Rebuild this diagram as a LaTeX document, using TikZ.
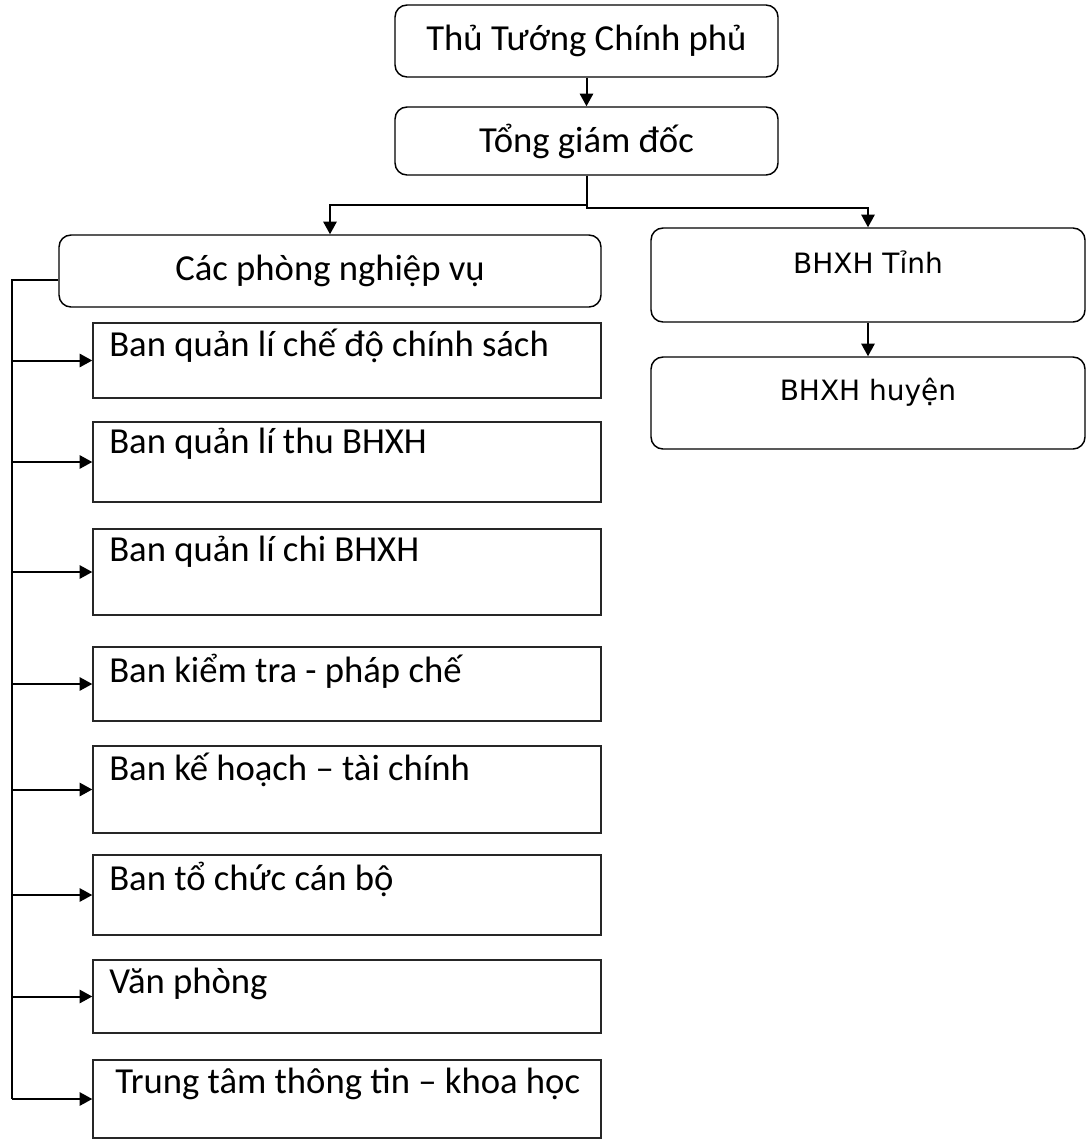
\documentclass[tikz,border=0pt]{standalone}
\usepackage{fontspec}
\setmainfont{Carlito}
\newfontfamily\veraface{DejaVu Sans}
\usetikzlibrary{arrows.meta,calc}

\begin{document}
\begin{tikzpicture}[x=0.75pt,y=-0.75pt,
  roundbox/.style={draw=black,line width=1.1pt,rounded corners=9pt,inner sep=0pt},
  flatbox/.style={draw=black!85,line width=1.1pt,inner sep=0pt,
    minimum width=508*0.75pt},
  lbl/.style={font=\fontsize{27.5pt}{32pt}\selectfont,inner sep=0pt},
  rlbl/.style={font=\veraface\fontsize{21pt}{26pt}\selectfont,inner sep=0pt},
  blbl/.style={lbl,anchor=west},
  conn/.style={line width=1.5pt},
  arr/.style={conn,-{Triangle[length=9.5pt,width=10pt]}}]

\useasboundingbox[fill=white] (0,0) rectangle (1087,1139);

% central management
\node[roundbox,minimum width=383*0.75pt,minimum height=72*0.75pt,lbl] (pm) at (586.5,41) {Thủ Tướng Chính phủ};
\node[roundbox,minimum width=383*0.75pt,minimum height=68*0.75pt,lbl] (tgd) at (586.5,141) {Tổng giám đốc};
\node[roundbox,minimum width=542*0.75pt,minimum height=72*0.75pt,lbl] (cpnv) at (330,271) {Các phòng nghiệp vụ};

% provincial branch
\node[roundbox,minimum width=434*0.75pt,minimum height=94*0.75pt] (tinh) at (868,275) {};
\node[rlbl] (tinh-t) at (868,262) {BHXH Tỉnh};
\node[roundbox,minimum width=434*0.75pt,minimum height=92*0.75pt] (huyen) at (868,403) {};
\node[rlbl] (huyen-t) at (868,392) {BHXH huyện};

% departments
\node[flatbox,minimum height=75*0.75pt] (b1) at (347,360.5) {};
\node[flatbox,minimum height=80*0.75pt] (b2) at (347,462) {};
\node[flatbox,minimum height=86*0.75pt] (b3) at (347,572) {};
\node[flatbox,minimum height=74*0.75pt] (b4) at (347,684) {};
\node[flatbox,minimum height=87*0.75pt] (b5) at (347,789.5) {};
\node[flatbox,minimum height=80*0.75pt] (b6) at (347,895) {};
\node[flatbox,minimum height=73*0.75pt] (b7) at (347,996.5) {};
\node[flatbox,minimum height=78*0.75pt] (b8) at (347,1099) {};

\node[blbl] (b1-t) at (109,346) {Ban quản lí chế độ chính sách};
\node[blbl] (b2-t) at (109,444) {Ban quản lí thu BHXH};
\node[blbl] (b3-t) at (109,552) {Ban quản lí chi BHXH};
\node[blbl] (b4-t) at (109,671) {Ban kiểm tra - pháp chế};
\node[blbl] (b5-t) at (109,770) {Ban kế hoạch – tài chính};
\node[blbl] (b6-t) at (109,879) {Ban tổ chức cán bộ};
\node[blbl] (b7-t) at (109,984) {Văn phòng};
\node[blbl] (b8-t) at (115,1084) {Trung tâm thông tin – khoa học};

% connectors
\draw[arr] (pm) -- (tgd);
\draw[arr] (tgd.south) -- ++(0,29) -| (cpnv.north);
\draw[arr] (tgd.south) -- ++(0,32) -| (tinh.north);
\draw[arr] (tinh) -- (huyen);

\coordinate (trunk) at (12,280);
\draw[conn] ($(cpnv.west)+(0,9)$) -- (trunk) -- (trunk |- b8.west);
\foreach \b in {b1,b2,b3,b4,b5,b6,b7,b8}
  \draw[arr] (trunk |- \b.west) -- (\b.west);
\end{tikzpicture}
\end{document}
